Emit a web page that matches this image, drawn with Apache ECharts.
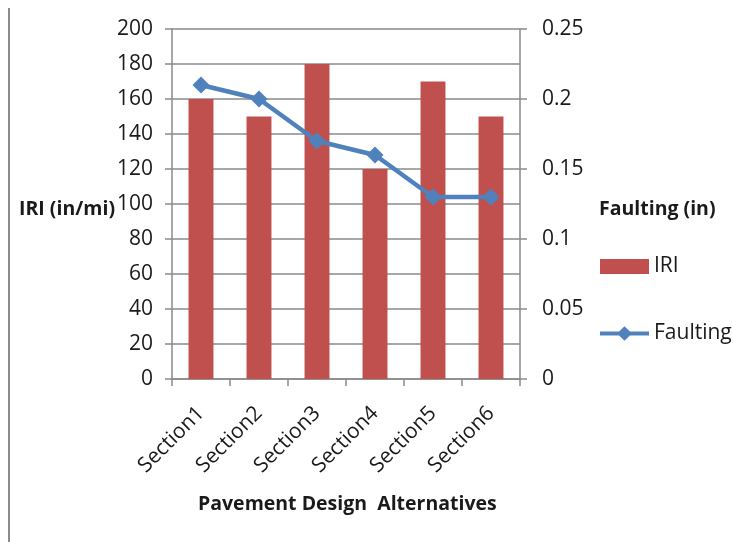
<!DOCTYPE html>
<html>
<head>
<meta charset="utf-8">
<script src="https://cdn.jsdelivr.net/npm/echarts@6/dist/echarts.min.js"></script>
<style>
  html, body { margin: 0; padding: 0; background: #ffffff; }
  #chart { width: 733px; height: 542px; }
</style>
</head>
<body>
<div id="chart"></div>
<script>
// Sections compared in the study
const categories = ['Section1', 'Section2', 'Section3', 'Section4', 'Section5', 'Section6'];
// Roughness per section (in/mi)
const iriValues = [160, 150, 180, 120, 170, 150];
// Joint faulting per section (in)
const faultingValues = [0.21, 0.2, 0.17, 0.16, 0.13, 0.13];
// Axis ranges
const iriTicks = { min: 0, max: 200, interval: 20 };
const faultTicks = { min: 0, max: 0.25, interval: 0.05 };

const FONT = '"Open Sans", "DejaVu Sans", sans-serif';
const GRAY = '#8a8a8a';
const TEXT = '#1a1a1a';
const BAR = '#C0504D';
const LINE = '#4F81BD';

// Legend key for the line series: a thick stroke with a large diamond on it
const LINE_KEY = 'path://M0,5.5 L19.5,5.5 L25,0 L30.5,5.5 L50,5.5 L50,9.5 L30.5,9.5 L25,15 L19.5,9.5 L0,9.5 Z';

const chart = echarts.init(document.getElementById('chart'), null, { renderer: 'canvas' });

chart.setOption({
  animation: false,
  backgroundColor: '#ffffff',
  textStyle: { fontFamily: FONT },
  grid: { left: 172, right: 213, top: 29, bottom: 163, containLabel: false },
  title: [
    {
      text: 'IRI (in/mi)', left: 14, top: 194,
      textStyle: { fontFamily: FONT, fontSize: 19.5, fontWeight: 'bold', color: TEXT }
    },
    {
      text: 'Faulting (in)', left: 594, top: 194,
      textStyle: { fontFamily: FONT, fontSize: 19.5, fontWeight: 'bold', color: TEXT }
    },
    {
      text: 'Pavement Design  Alternatives', left: 193, top: 489,
      textStyle: { fontFamily: FONT, fontSize: 19.5, fontWeight: 'bold', color: TEXT }
    }
  ],
  legend: {
    orient: 'vertical',
    left: 595, top: 251,
    itemWidth: 49, itemHeight: 15,
    itemGap: 46,
    textStyle: { fontFamily: FONT, fontSize: 21, color: TEXT, padding: [0, 0, 0, 0] },
    data: [
      { name: 'IRI', icon: 'rect' },
      { name: 'Faulting', icon: LINE_KEY, itemStyle: { color: LINE, borderWidth: 0 } }
    ]
  },
  xAxis: {
    type: 'category',
    data: categories,
    boundaryGap: true,
    axisLine: { lineStyle: { color: GRAY, width: 1.5 } },
    axisTick: { show: true, length: 7, lineStyle: { color: GRAY, width: 1.5 } },
    axisLabel: {
      rotate: 45, margin: 31, interval: 0,
      fontFamily: FONT, fontSize: 21, color: TEXT
    },
    splitLine: { show: false }
  },
  yAxis: [
    {
      type: 'value',
      min: iriTicks.min, max: iriTicks.max, interval: iriTicks.interval,
      position: 'left',
      axisLine: { show: true, lineStyle: { color: GRAY, width: 1.5 } },
      axisTick: { show: true, length: 7, lineStyle: { color: GRAY, width: 1.5 } },
      axisLabel: { margin: 19, fontFamily: FONT, fontSize: 21, color: TEXT },
      splitLine: { show: true, lineStyle: { color: GRAY, width: 1.5 } }
    },
    {
      type: 'value',
      min: faultTicks.min, max: faultTicks.max, interval: faultTicks.interval,
      position: 'right',
      axisLine: { show: true, lineStyle: { color: GRAY, width: 1.5 } },
      axisTick: { show: true, length: 7, lineStyle: { color: GRAY, width: 1.5 } },
      axisLabel: { margin: 22, fontFamily: FONT, fontSize: 21, color: TEXT },
      splitLine: { show: false }
    }
  ],
  series: [
    {
      name: 'IRI',
      type: 'bar',
      yAxisIndex: 0,
      data: iriValues,
      barWidth: '43%',
      itemStyle: { color: BAR }
    },
    {
      name: 'Faulting',
      type: 'line',
      yAxisIndex: 1,
      data: faultingValues,
      symbol: 'diamond',
      symbolSize: 17,
      lineStyle: { color: LINE, width: 4.5 },
      itemStyle: { color: LINE }
    }
  ],
  graphic: [
    {
      type: 'line',
      shape: { x1: 9, y1: 8, x2: 9, y2: 542 },
      style: { stroke: '#8a8a8a', lineWidth: 2 }
    }
  ]
});
</script>
</body>
</html>
